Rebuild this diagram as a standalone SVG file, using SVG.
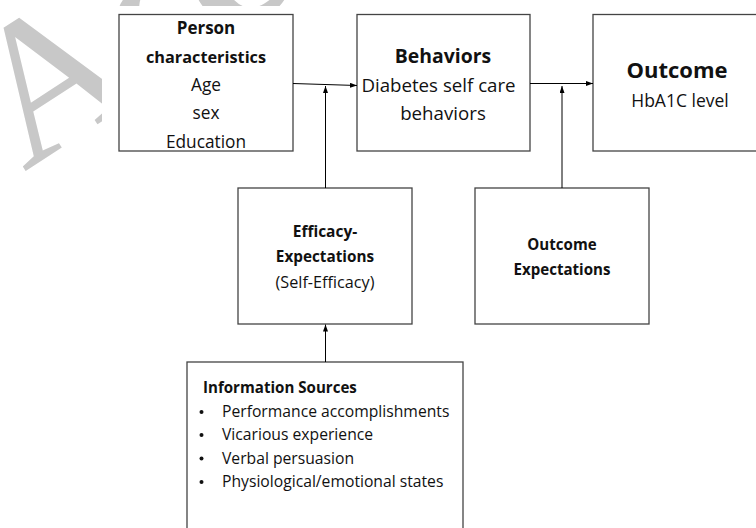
<svg xmlns="http://www.w3.org/2000/svg" width="756" height="528" viewBox="0 0 756 528">
<defs>
<marker id="ah" viewBox="0 0 7 5" refX="7" refY="2.5" markerWidth="7" markerHeight="5" markerUnits="userSpaceOnUse" orient="auto">
<path d="M0,0 L7,2.5 L0,5 z" fill="#000"/>
</marker>
<style>
.box{fill:#fff;stroke:#444;stroke-width:1.3}
.t{font-family:"Open Sans","Noto Sans","DejaVu Sans",sans-serif;fill:#111;text-anchor:middle}
.b{font-weight:bold}
.l{text-anchor:start}
.c{stroke:#000;stroke-width:1;fill:none;marker-end:url(#ah)}
.wm{font-family:"Liberation Serif",serif;fill:#c8c8c8}
.dot{fill:#111}
</style>
</defs>
<rect width="756" height="528" fill="#fff"/>
<g id="watermark">
<text class="wm" font-size="200" transform="translate(24,172) rotate(-33)">A<tspan font-weight="bold">cc</tspan></text>
</g>
<rect x="102" y="6" width="660" height="530" fill="#fff"/>
<g id="person">
<rect class="box" x="119" y="14.5" width="174" height="136.5"/>
<text class="t b" x="206" y="34" font-size="17">Person</text>
<text class="t b" x="206" y="62.5" font-size="16.3">characteristics</text>
<text class="t" x="206" y="90.5" font-size="17.3">Age</text>
<text class="t" x="206" y="119" font-size="17.3">sex</text>
<text class="t" x="206" y="147.5" font-size="17.3">Education</text>
</g>
<g id="behaviors">
<rect class="box" x="357" y="14.5" width="173" height="136.5"/>
<text class="t b" x="443" y="63.3" font-size="19.4">Behaviors</text>
<text class="t" x="438.5" y="91.7" font-size="18.7">Diabetes self care</text>
<text class="t" x="443" y="120" font-size="18.7">behaviors</text>
</g>
<g id="outcome">
<rect class="box" x="593" y="14.5" width="170" height="136.5"/>
<text class="t b" x="677" y="78" font-size="22">Outcome</text>
<text class="t" x="680" y="107" font-size="17.5">HbA1C level</text>
</g>
<g id="efficacy">
<rect class="box" x="238" y="188" width="174" height="136"/>
<text class="t b" x="325" y="237" font-size="15.5">Efficacy-</text>
<text class="t b" x="325" y="262" font-size="15.3">Expectations</text>
<text class="t" x="325" y="287.7" font-size="16.2">(Self-Efficacy)</text>
</g>
<g id="outcome-expectations">
<rect class="box" x="475" y="188" width="174" height="136"/>
<text class="t b" x="562" y="250" font-size="15.1">Outcome</text>
<text class="t b" x="562" y="275" font-size="15.1">Expectations</text>
</g>
<g id="information-sources">
<rect class="box" x="187" y="362" width="276" height="180"/>
<text class="t b l" x="203" y="393" font-size="15.1">Information Sources</text>
<circle class="dot" cx="201.5" cy="412" r="2"/>
<text class="t l" x="222" y="417" font-size="15.7">Performance accomplishments</text>
<circle class="dot" cx="201.5" cy="435" r="2"/>
<text class="t l" x="222" y="440" font-size="15.7">Vicarious experience</text>
<circle class="dot" cx="201.5" cy="458.5" r="2"/>
<text class="t l" x="222" y="463.5" font-size="15.7">Verbal persuasion</text>
<circle class="dot" cx="201.5" cy="482" r="2"/>
<text class="t l" x="222" y="487" font-size="15.7">Physiological/emotional states</text>
</g>
<g id="connectors">
<path class="c" d="M293,83.5 L357,85.5"/>
<path class="c" d="M325.5,188 L325.5,86"/>
<path class="c" d="M530,83.5 L593,83.5"/>
<path class="c" d="M562,188 L562,86"/>
<path class="c" d="M325.5,362 L325.5,324.5"/>
</g>
</svg>
